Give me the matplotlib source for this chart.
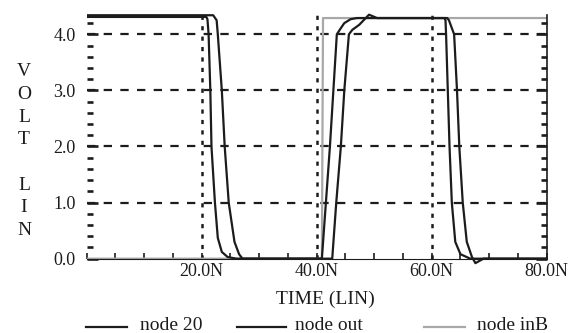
import matplotlib.pyplot as plt
from matplotlib.lines import Line2D
from matplotlib.ticker import FixedLocator, MultipleLocator

plt.rcParams['font.family'] = ['Liberation Serif', 'DejaVu Serif']
plt.rcParams['lines.scale_dashes'] = False

# traces (time in ns, volts)
t_node20 = [0, 20.8, 21.0, 21.2, 21.5, 21.7, 22.3, 22.8, 23.5, 24.5, 26.0,
            40.9, 41.6, 42.3, 42.9, 43.5, 44.2, 44.8, 45.9, 47.0,
            62.2, 62.4, 62.5, 62.8, 63.1, 63.5, 64.1, 65.0, 66.7, 80]
v_node20 = [4.31, 4.31, 4.27, 4.0, 3.0, 2.0, 1.0, 0.37, 0.12, 0.03, 0.0,
            0.0, 1.0, 2.0, 3.0, 4.0, 4.11, 4.2, 4.27, 4.29,
            4.29, 4.25, 4.0, 3.0, 2.0, 1.0, 0.3, 0.08, 0.0, 0.0]

t_out = [0, 22.0, 22.6, 22.8, 23.5, 24.0, 24.7, 25.7, 26.5, 27.1,
         42.7, 43.4, 44.2, 44.8, 45.6, 46.2, 47.4, 49.1, 50.5,
         62.7, 63.0, 63.9, 64.4, 64.8, 65.4, 66.1, 67.0, 67.6, 69.0, 80]
v_out = [4.34, 4.34, 4.25, 4.0, 3.0, 2.0, 1.0, 0.3, 0.08, 0.0,
         0.0, 1.0, 2.0, 3.0, 4.0, 4.08, 4.17, 4.35, 4.29,
         4.29, 4.25, 4.0, 3.0, 2.0, 1.0, 0.3, 0.03, -0.08, 0.0, 0.0]

t_inB = [0, 40.9, 41.1, 80]
v_inB = [0.0, 0.0, 4.29, 4.29]

y_ticks = [0, 1, 2, 3, 4]
y_labels = ['0.0', '1.0', '2.0', '3.0', '4.0']
x_ticks = [20, 40, 60, 80]
x_labels = ['20.0N', '40.0N', '60.0N', '80.0N']
legend_names = ['node 20', 'node out', 'node inB']

W, H = 571, 333
fig = plt.figure(figsize=(W / 100, H / 100), dpi=100)
ax = fig.add_axes([86.7 / W, (H - 265.4) / H, 460 / W, (265.4 - 13.0) / H])
ax.set_xlim(0, 80)
ax.set_ylim(-0.12, 4.38)

ink = '#1c1c1c'
gray = '#a8a8a8'

# grid
for y in y_ticks[1:]:
    ax.plot([0, 80], [y, y], color=ink, lw=1.6, dashes=(6, 6), zorder=1)
for x in x_ticks[:-1]:
    ax.plot([x, x], [0, 4.35], color=ink, lw=1.8, dashes=(3, 4.5), zorder=1)

ax.plot(t_inB, v_inB, color=gray, lw=1.6, zorder=2)
ax.plot(t_node20, v_node20, color=ink, lw=1.6, zorder=3)
ax.plot(t_out, v_out, color=ink, lw=1.6, zorder=3)

for s in ['top', 'left']:
    ax.spines[s].set_visible(False)
ax.spines['bottom'].set_position(('data', 0))
ax.spines['bottom'].set_color(ink)
ax.spines['right'].set_bounds(0, 4.35)
ax.spines['right'].set_color(ink)
ax.spines['right'].set_linewidth(1.2)

ax.yaxis.set_major_locator(FixedLocator(y_ticks))
ax.set_yticklabels(y_labels)
ax.yaxis.set_minor_locator(MultipleLocator(0.2))
ax.xaxis.set_major_locator(FixedLocator(x_ticks))
ax.set_xticklabels(x_labels)
ax.xaxis.set_minor_locator(MultipleLocator(5))

ax.tick_params(axis='y', which='both', direction='in', left=True, right=True,
               colors=ink, width=1.9, labelsize=13, pad=8)
ax.tick_params(axis='y', which='major', length=8)
ax.tick_params(axis='y', which='minor', length=4.5)
ax.tick_params(axis='x', which='both', direction='in', top=False,
               colors=ink, width=1.2, length=4, labelsize=13, pad=3)

# y label, letters stacked
for i, ch in enumerate("VOLT LIN"):
    if ch == ' ':
        continue
    fig.text(24 / W, 1 - (72 + i * 22.6) / H, ch, ha='center', va='center',
             fontsize=14, color=ink)

fig.text(325 / W, 1 - 299 / H, 'TIME (LIN)', ha='center', va='center',
         fontsize=14, color=ink)

# legend row
legend_styles = [(ink, 1.6, 86, 127, 140), (ink, 1.6, 237, 286, 295),
                 (gray, 1.6, 424, 465, 477)]
for name, (c, lw, x0, x1, xt) in zip(legend_names, legend_styles):
    yy = 1 - 327 / H
    fig.add_artist(Line2D([x0 / W, x1 / W], [yy, yy], color=c, lw=lw,
                          transform=fig.transFigure))
    fig.text(xt / W, 1 - 325 / H, name, ha='left', va='center',
             fontsize=14, color=ink)

fig.savefig('out.png', dpi=100)
